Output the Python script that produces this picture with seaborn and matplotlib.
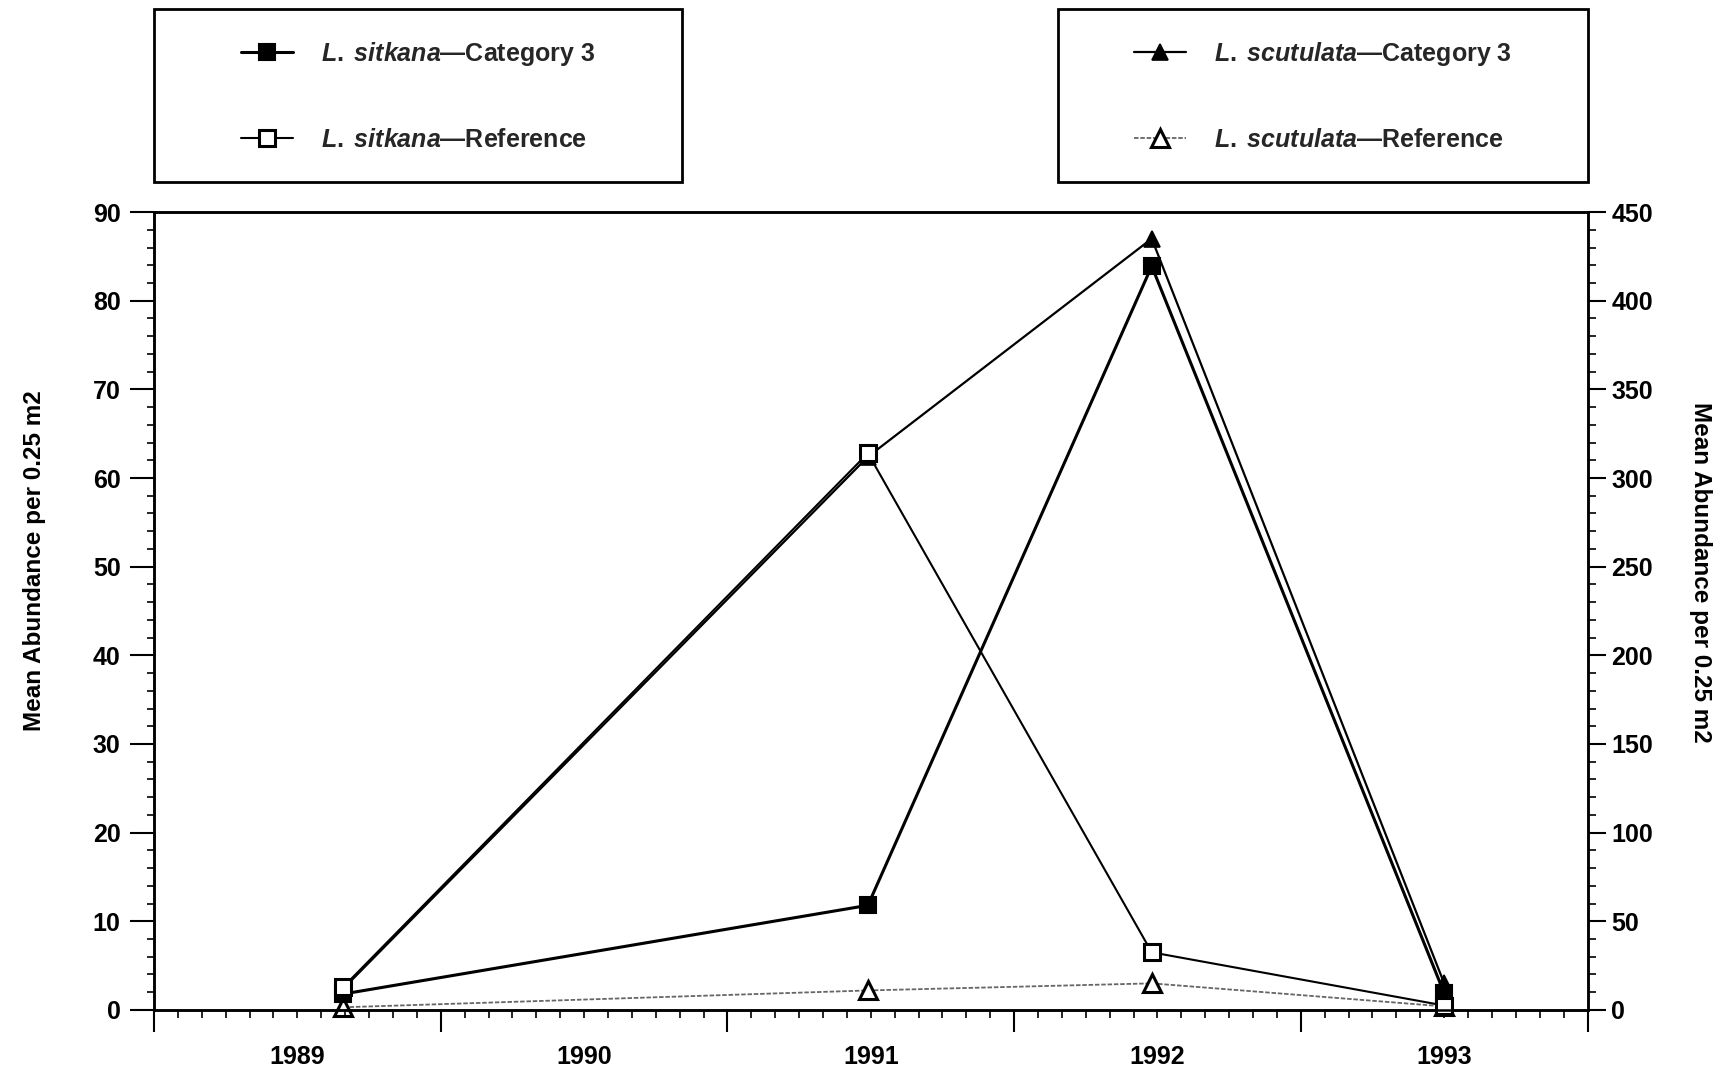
import numpy as np
import pandas as pd
import seaborn as sns
import matplotlib
matplotlib.use("Agg")
import matplotlib.pyplot as plt
from matplotlib.patches import Rectangle
from matplotlib.ticker import MultipleLocator

# ---- data ----
sample_dates = [1989.66, 1991.49, 1992.48, 1993.50]
sitkana_cat3 = [1.8, 11.8, 83.9, 1.9]        # left axis
sitkana_ref = [2.6, 62.8, 6.5, 0.5]          # left axis
scutulata_cat3 = [12, 312, 435, 15]          # right axis
scutulata_ref = [1.5, 11, 15, 2]             # right axis
year_labels = ["1989", "1990", "1991", "1992", "1993"]
label_sit_cat3 = r"$\mathit{L.\;sitkana}$—Category 3"
label_sit_ref = r"$\mathit{L.\;sitkana}$—Reference"
label_scu_cat3 = r"$\mathit{L.\;scutulata}$—Category 3"
label_scu_ref = r"$\mathit{L.\;scutulata}$—Reference"
ylabel = "Mean Abundance per 0.25 m2"

sns.set_theme(style="white")
plt.rcParams['font.family'] = ['Liberation Sans', 'DejaVu Sans']
plt.rcParams['font.weight'] = 'bold'
plt.rcParams['mathtext.fontset'] = 'custom'
plt.rcParams['mathtext.it'] = 'Liberation Sans:italic:bold'
plt.rcParams['mathtext.rm'] = 'Liberation Sans:bold'
plt.rcParams['mathtext.bf'] = 'Liberation Sans:bold'

FS = 18

fig = plt.figure(figsize=(17.25, 10.71), dpi=100)
ax = fig.add_axes([0.0893, 0.057, 0.9203 - 0.0893, 0.802 - 0.057])
ax2 = ax.twinx()
ax.set_zorder(ax2.get_zorder() + 1)
ax.patch.set_visible(False)

common = dict(estimator=None, errorbar=None, sort=False, legend=False)

sns.lineplot(x=sample_dates, y=sitkana_cat3, ax=ax, color='black', linewidth=2.2,
             marker='s', markersize=11, markerfacecolor='black',
             markeredgecolor='black', markeredgewidth=1.5, **common)
sns.lineplot(x=sample_dates, y=sitkana_ref, ax=ax, color='black', linewidth=1.5,
             marker='s', markersize=12, markerfacecolor='white',
             markeredgecolor='black', markeredgewidth=2.2, **common)
sns.lineplot(x=sample_dates, y=scutulata_cat3, ax=ax2, color='black', linewidth=1.6,
             marker='^', markersize=12, markerfacecolor='black',
             markeredgecolor='black', markeredgewidth=1.2, **common)
sns.lineplot(x=sample_dates, y=scutulata_ref, ax=ax2, color='0.4', linewidth=1.3,
             linestyle=(0, (2.5, 1)),
             marker='^', markersize=13, markerfacecolor='white',
             markeredgecolor='black', markeredgewidth=2.2, **common)

sit_lines = ax.get_lines()
scu_lines = ax2.get_lines()
for ln in list(sit_lines) + list(scu_lines):
    ln.set_clip_on(False)

# ---- axes limits & ticks ----
ax.set_xlim(1989, 1994)
ax.set_ylim(0, 90)
ax2.set_ylim(0, 450)

ax.set_xticks(list(range(1989, 1995)), labels=[""] * 6)
months = [1989 + m / 12 for m in range(0, 61) if m % 12 != 0]
month_labels = []
for m in range(0, 61):
    if m % 12 == 0:
        continue
    month_labels.append(year_labels[m // 12] if m % 12 == 6 else "")
ax.set_xticks(months, labels=month_labels, minor=True)

ax.set_yticks(list(range(0, 91, 10)))
ax.yaxis.set_minor_locator(MultipleLocator(2))
ax2.set_yticks(list(range(0, 451, 50)))
ax2.yaxis.set_minor_locator(MultipleLocator(10))

ax.tick_params(axis='x', which='major', direction='out', length=16, width=1.5,
               bottom=True, color='black')
ax.tick_params(axis='x', which='minor', direction='out', length=6, width=1.2,
               bottom=True, pad=19, labelsize=FS, labelcolor='black', color='black')
ax.tick_params(axis='y', which='major', direction='out', length=17, width=1.5,
               left=True, right=False, pad=7, labelsize=FS, labelcolor='black', color='black')
ax.tick_params(axis='y', which='minor', direction='out', length=5, width=1.2,
               left=True, right=False, color='black')
ax2.tick_params(axis='y', which='major', direction='out', length=13, width=1.5,
                right=True, left=False, pad=4, labelsize=FS, labelcolor='black', color='black')
ax2.tick_params(axis='y', which='minor', direction='out', length=6, width=1.2,
                right=True, left=False, color='black')

for a in (ax, ax2):
    for s in a.spines.values():
        s.set_visible(True)
        s.set_color('black')
        s.set_linewidth(1.8)

for lab in ax.get_xticklabels(minor=True) + ax.get_yticklabels() + ax2.get_yticklabels():
    lab.set_fontweight('bold')

ax.set_ylabel(ylabel, fontsize=17.5, fontweight='bold', color='black')
ax.yaxis.set_label_coords(-0.0752, 0.5627)
ax2.set_ylabel(ylabel, fontsize=17.5, fontweight='bold', color='black', rotation=270)
ax2.yaxis.set_label_coords(1.0867, 0.549)

# ---- legend boxes ----
fig.add_artist(Rectangle((0.0893, 0.8296), 0.3061, 0.1622, transform=fig.transFigure,
                         fill=False, lw=2, ec='black'))
fig.add_artist(Rectangle((0.6135, 0.8296), 0.3068, 0.1622, transform=fig.transFigure,
                         fill=False, lw=2, ec='black'))

leg_kw = dict(loc='center', frameon=False, prop={'size': FS, 'weight': 'bold'},
              handlelength=2.1, handletextpad=1.1, labelspacing=2.4, borderpad=0)
fig.legend(handles=list(sit_lines), labels=[label_sit_cat3, label_sit_ref],
           bbox_to_anchor=(0.2423, 0.9107), **leg_kw)
fig.legend(handles=list(scu_lines), labels=[label_scu_cat3, label_scu_ref],
           bbox_to_anchor=(0.7669, 0.9107), **leg_kw)

fig.savefig("out.png", dpi=100, facecolor='white')
